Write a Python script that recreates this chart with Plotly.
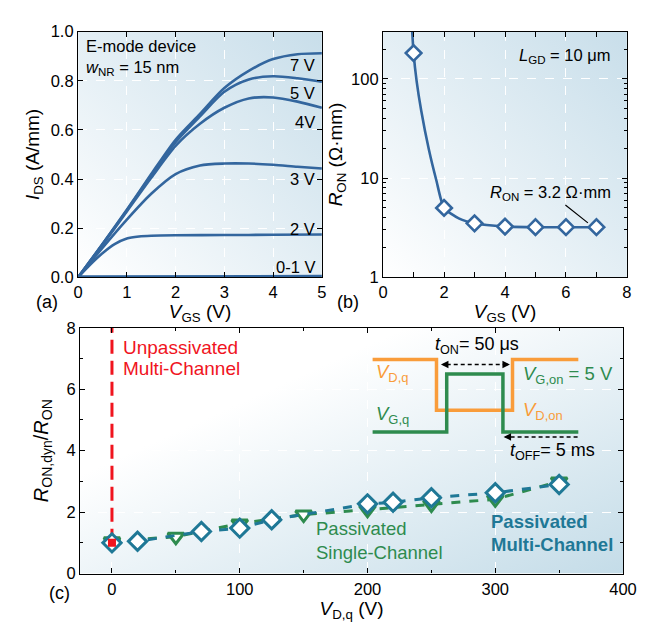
import base64
import plotly.graph_objects as go

# ---------------- data ----------------
# (a) output curves
vds = [0, 0.5, 1, 1.5, 2, 2.5, 3, 3.5, 4, 4.5, 5]
i_7v = [0, 0.135, 0.275, 0.42, 0.56, 0.665, 0.77, 0.84, 0.888, 0.908, 0.912]
i_5v = [0, 0.135, 0.273, 0.415, 0.55, 0.655, 0.755, 0.805, 0.818, 0.81, 0.796]
i_4v = [0, 0.132, 0.268, 0.405, 0.535, 0.625, 0.69, 0.728, 0.732, 0.715, 0.69]
i_3v = [0, 0.12, 0.235, 0.34, 0.42, 0.455, 0.463, 0.463, 0.458, 0.45, 0.443]
vds_2v = [0, 0.25, 0.5, 0.75, 1, 1.25, 1.5, 2, 3, 4, 5]
i_2v = [0, 0.052, 0.098, 0.135, 0.158, 0.166, 0.169, 0.171, 0.172, 0.173, 0.174]
vds_01 = [0, 5]
i_01 = [0.0, 0.002]
curve_labels = ["7 V", "5 V", "4V", "3 V", "2 V", "0-1 V"]
curve_label_y = [0.862, 0.751, 0.632, 0.40, 0.198, 0.04]

# (b) on-resistance
vgs_pts = [1, 2, 3, 4, 5, 6, 7]
ron_pts = [182, 5.0, 3.5, 3.25, 3.2, 3.2, 3.2]
vgs_fit = [0.955, 1.0, 1.1, 1.25, 1.5, 1.75, 2.0, 2.5, 3.0, 4.0, 5.0, 6.0, 7.0]
ron_fit = [300, 182, 95, 48, 19.5, 9.4, 5.0, 3.9, 3.5, 3.25, 3.2, 3.2, 3.2]

# (c) dynamic on-resistance
vdq_multi = [0, 20, 70, 100, 125, 200, 220, 250, 300, 350]
r_multi = [1.0, 1.05, 1.37, 1.48, 1.75, 2.27, 2.32, 2.47, 2.63, 2.9]
vdq_single = [0, 50, 100, 150, 200, 250, 300, 350]
r_single = [1.05, 1.2, 1.63, 1.92, 2.08, 2.25, 2.42, 3.0]
vdq_unpass = [0, 0]
r_unpass = [1.0, 8.0]

# (c) inset schematic waveforms
wave_x_d = [204, 254, 254, 313.5, 313.5, 365]
wave_y_d = [6.97, 6.97, 5.32, 5.32, 6.97, 6.97]
wave_x_g = [204, 262, 262, 306, 306, 365]
wave_y_g = [4.61, 4.61, 6.5, 6.5, 4.61, 4.61]

# ---------------- styles ----------------
BLUE = "#33669e"
TEAL = "#1f7896"
GREEN = "#2e8b4e"
ORANGE = "#f99c3a"
RED = "#f0141e"
FONT = "Liberation Sans, Arial, sans-serif"

W, H = 664, 628
A_X = [67 / W, 318 / W]
A_Y = [1 - 268 / H, 1 - 15 / H]
B_X = [381 / W, 632 / W]
B_Y = A_Y
C_X = [69 / W, 628 / W]
C_Y = [1 - 573 / H, 1 - 320 / H]


def grad_uri(x1, y1, x2, y2, stops):
    st = "".join(f'<stop offset="{o}" stop-color="{c}"/>' for o, c in stops)
    svg = ('<svg xmlns="http://www.w3.org/2000/svg" width="200" height="200" preserveAspectRatio="none">'
           f'<defs><linearGradient id="g" x1="{x1}" y1="{y1}" x2="{x2}" y2="{y2}">{st}</linearGradient></defs>'
           '<rect width="200" height="200" fill="url(#g)"/></svg>')
    return "data:image/svg+xml;base64," + base64.b64encode(svg.encode()).decode()


fig = go.Figure()

# ---- panel (a)
line_a = dict(color=BLUE, width=2.6, shape="spline", smoothing=0.8)
for yy in [i_7v, i_5v, i_4v, i_3v]:
    fig.add_trace(go.Scatter(x=vds, y=yy, mode="lines", line=line_a, xaxis="x", yaxis="y", showlegend=False))
fig.add_trace(go.Scatter(x=vds_2v, y=i_2v, mode="lines", line=line_a, xaxis="x", yaxis="y", showlegend=False))
fig.add_trace(go.Scatter(x=vds_01, y=i_01, mode="lines", line=dict(color=BLUE, width=4), xaxis="x", yaxis="y",
                         showlegend=False))

# ---- panel (b)
fig.add_trace(go.Scatter(x=vgs_fit, y=ron_fit, mode="lines", line=dict(color=BLUE, width=2.6, shape="spline", smoothing=0.6),
                         xaxis="x2", yaxis="y2", showlegend=False))
fig.add_trace(go.Scatter(x=vgs_pts, y=ron_pts, mode="markers",
                         marker=dict(symbol="diamond", size=12, color="white", line=dict(color=BLUE, width=2.6)),
                         xaxis="x2", yaxis="y2", showlegend=False))

# ---- panel (c)
fig.add_trace(go.Scatter(x=wave_x_d, y=wave_y_d, mode="lines", line=dict(color=ORANGE, width=3.5),
                         xaxis="x3", yaxis="y3", showlegend=False))
fig.add_trace(go.Scatter(x=wave_x_g, y=wave_y_g, mode="lines", line=dict(color=GREEN, width=3.5),
                         xaxis="x3", yaxis="y3", showlegend=False))
fig.add_trace(go.Scatter(x=vdq_unpass, y=r_unpass, mode="lines", line=dict(color=RED, width=3, dash="14px,7px"),
                         xaxis="x3", yaxis="y3", showlegend=False))
fig.add_trace(go.Scatter(x=vdq_single, y=r_single, mode="lines+markers", line=dict(color=GREEN, width=3, dash="dash"),
                         marker=dict(symbol="triangle-down", size=14, color="white", line=dict(color=GREEN, width=3)),
                         xaxis="x3", yaxis="y3", showlegend=False))
fig.add_trace(go.Scatter(x=vdq_multi, y=r_multi, mode="lines+markers", line=dict(color=TEAL, width=3, dash="dash"),
                         marker=dict(symbol="diamond", size=14, color="white", line=dict(color=TEAL, width=3)),
                         xaxis="x3", yaxis="y3", showlegend=False))
fig.add_trace(go.Scatter(x=vdq_unpass[:1], y=r_unpass[:1], mode="markers",
                         marker=dict(symbol="square", size=8, color=RED), xaxis="x3", yaxis="y3", showlegend=False))

# ---------------- axes ----------------
TICK = 16.5
tickfont = dict(family=FONT, size=TICK, color="black")
titlefont = dict(family=FONT, size=19, color="black")
common = dict(showline=True, linecolor="black", linewidth=1.3, mirror="ticks", ticks="inside", ticklen=5,
              tickcolor="black", tickwidth=1.2, showgrid=True, gridcolor="white", griddash="dash", gridwidth=1,
              zeroline=False, tickfont=tickfont)

TXT = 16.5
annos = []
# panel (a) texts
annos.append(dict(x=0.12, y=0.94, xref="x", yref="y", text="E-mode device", showarrow=False, xanchor="left",
                  font=dict(family=FONT, size=TXT, color="black")))
annos.append(dict(x=0.12, y=0.85, xref="x", yref="y", text="<i>w</i><sub>NR</sub> = 15 nm", showarrow=False,
                  xanchor="left", font=dict(family=FONT, size=TXT, color="black")))
for lab, yy in zip(curve_labels, curve_label_y):
    annos.append(dict(x=4.9, y=yy, xref="x", yref="y", text=lab, showarrow=False, xanchor="right",
                      font=dict(family=FONT, size=TXT, color="black")))
# panel (b) texts
annos.append(dict(x=7.55, y=2.235, xref="x2", yref="y2", text="<i>L</i><sub>GD</sub> = 10 μm", showarrow=False,
                  xanchor="right", font=dict(family=FONT, size=TXT, color="black")))
annos.append(dict(x=5.48, y=0.853, xref="x2", yref="y2", text="<i>R</i><sub>ON</sub> = 3.2 Ω·mm", showarrow=False,
                  xanchor="center", font=dict(family=FONT, size=TXT, color="black")))
annos.append(dict(x=6.72, y=0.549, xref="x2", yref="y2", text="", showarrow=True, arrowhead=0, arrowwidth=1.2,
                  arrowcolor="black", ax=-24, ay=-19, standoff=0))
# panel (c) texts
c_texts = [
    (6.7, 7.37, "Unpassivated", RED, 19),
    (6.7, 6.66, "Multi-Channel", RED, 19),
    (158, 1.47, "Passivated", GREEN, 18.5),
    (158, 0.68, "Single-Channel", GREEN, 18.5),
    (295, 1.68, "<b>Passivated</b>", TEAL, 18.5),
    (295, 0.95, "<b>Multi-Channel</b>", TEAL, 18.5),
    (205, 6.53, "<i>V</i><sub>D,q</sub>", ORANGE, 18.5),
    (205, 5.16, "<i>V</i><sub>G,q</sub>", GREEN, 18.5),
    (320, 6.45, "<i>V</i><sub>G,on</sub> = 5 V", GREEN, 18.5),
    (320, 5.28, "<i>V</i><sub>D,on</sub>", ORANGE, 18.5),
]
for x, y, t, c, s in c_texts:
    annos.append(dict(x=x, y=y, xref="x3", yref="y3", text=t, showarrow=False, xanchor="left",
                      font=dict(family=FONT, size=s, color=c)))
annos.append(dict(x=286, y=7.44, xref="x3", yref="y3", text="<i>t</i><sub>ON</sub>= 50 μs", showarrow=False,
                  font=dict(family=FONT, size=18, color="black")))
annos.append(dict(x=310, y=3.98, xref="x3", yref="y3", text="<i>t</i><sub>OFF</sub>= 5 ms", showarrow=False,
                  xanchor="left", font=dict(family=FONT, size=18, color="black")))
# panel labels
for lab, px, py in [("(a)", 22, 293), ("(b)", 345, 293), ("(c)", 35, 605)]:
    annos.append(dict(x=px / W, y=1 - py / H, xref="paper", yref="paper", text=lab, showarrow=False,
                      font=dict(family=FONT, size=18, color="black")))

# dashed arrows (t_ON, t_OFF)
shapes = [
    dict(type="line", xref="x3", yref="y3", x0=262, x1=307, y0=6.81, y1=6.81, line=dict(color="black", width=1.5, dash="4px,3px")),
    dict(type="line", xref="x3", yref="y3", x0=312, x1=365, y0=4.45, y1=4.45, line=dict(color="black", width=1.5, dash="4px,3px")),
]
for xa, xt, yy in [(257.5, 264, 6.81), (311.5, 305, 6.81), (306.5, 313, 4.45)]:
    annos.append(dict(x=xa, y=yy, ax=xt, ay=yy, xref="x3", yref="y3", axref="x3", ayref="y3", text="",
                      showarrow=True, arrowhead=2, arrowsize=1, arrowwidth=1.5, arrowcolor="black", standoff=0))

images = []
g_ab = grad_uri(0, 1, 1, 0, [(0, "#ffffff"), (1, "#c8deea")])
g_c = grad_uri(0, 0, 1, 1, [(0, "#ffffff"), (0.3, "#ffffff"), (1, "#c4dce8")])
for (dx, dy, src) in [(A_X, A_Y, g_ab), (B_X, B_Y, g_ab), (C_X, C_Y, g_c)]:
    images.append(dict(source=src, xref="paper", yref="paper", x=dx[0], y=dy[1], sizex=dx[1] - dx[0],
                       sizey=dy[1] - dy[0], xanchor="left", yanchor="top", sizing="stretch", layer="below"))

fig.update_layout(
    width=W, height=H, margin=dict(l=0, r=0, t=0, b=0),
    paper_bgcolor="white", plot_bgcolor="rgba(0,0,0,0)",
    font=dict(family=FONT, color="black"),
    xaxis=dict(domain=A_X, anchor="y", range=[0, 5], dtick=1, **common,
               title=dict(text="<i>V</i><sub>GS</sub> (V)", font=titlefont, standoff=2)),
    yaxis=dict(domain=A_Y, anchor="x", range=[0, 1.0], dtick=0.2, tickformat=".1f", **common,
               title=dict(text="<i>I</i><sub>DS</sub> (A/mm)", font=titlefont, standoff=6)),
    xaxis2=dict(domain=B_X, anchor="y2", range=[0, 8], dtick=2, **common,
                minor=dict(ticks="inside", dtick=1, ticklen=5, tickcolor="black", showgrid=False),
                title=dict(text="<i>V</i><sub>GS</sub> (V)", font=titlefont, standoff=2)),
    yaxis2=dict(domain=B_Y, anchor="x2", type="log", range=[0, 2.477], tickvals=[1, 10, 100],
                ticktext=["1", "10", "100"], **common,
                minor=dict(ticks="inside", ticklen=3, tickcolor="black", showgrid=False,
                           tickvals=[2, 3, 4, 5, 6, 7, 8, 9, 20, 30, 40, 50, 60, 70, 80, 90, 200, 300]),
                title=dict(text="<i>R</i><sub>ON</sub> (Ω·mm)", font=titlefont, standoff=3)),
    xaxis3=dict(domain=C_X, anchor="y3", range=[-25, 400], dtick=100, **common,
                minor=dict(ticks="inside", dtick=50, ticklen=3, tickcolor="black", showgrid=False),
                title=dict(text="<i>V</i><sub>D,q</sub> (V)", font=dict(family=FONT, size=19, color="black"), standoff=5)),
    yaxis3=dict(domain=C_Y, anchor="x3", range=[0, 8], dtick=2, **common,
                minor=dict(ticks="inside", dtick=1, ticklen=3, tickcolor="black", showgrid=False),
                title=dict(text="<i>R</i><sub>ON,dyn</sub>/<i>R</i><sub>ON</sub>", font=dict(family=FONT, size=20, color="black"),
                           standoff=12)),
    annotations=annos, shapes=shapes, images=images,
)

fig.write_html("out.html")
